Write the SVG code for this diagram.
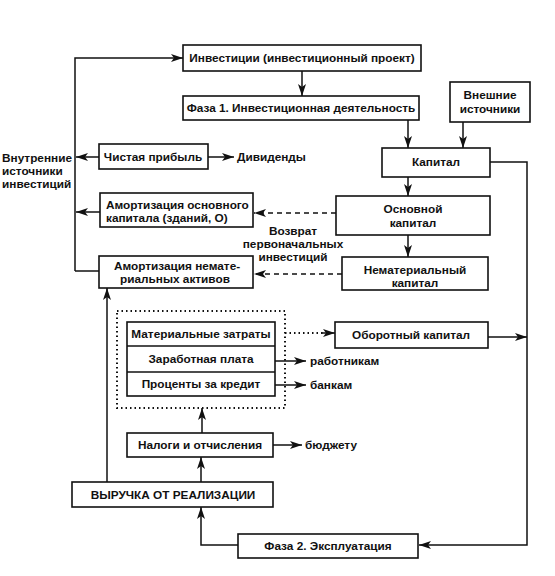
<svg xmlns="http://www.w3.org/2000/svg" width="555" height="576" viewBox="0 0 555 576">
<style>
.b{fill:#fff;stroke:#111;stroke-width:1.6}
.t{font-family:"Liberation Sans",Arial,sans-serif;font-size:11.8px;font-weight:bold;fill:#111}
.c{text-anchor:middle}
.l{fill:none;stroke:#111;stroke-width:1.5}
.d{stroke-dasharray:5 4}
.o{stroke-dasharray:1.5 3;stroke-width:2}
</style>
<defs>
<marker id="a" viewBox="0 0 12 8" refX="12" refY="4" markerWidth="12" markerHeight="8" markerUnits="userSpaceOnUse" orient="auto">
<path d="M0,0 L12,4 L0,8 L3,4 Z" fill="#111"/>
</marker>
</defs>
<rect width="555" height="576" fill="#fff"/>
<g id="connectors">
<path class="l" d="M75,271 V58 H183" marker-end="url(#a)"/>
<path class="l" d="M75,271 H99"/>
<path class="l" d="M302,71 V96" marker-end="url(#a)"/>
<path class="l" d="M408,120 V148" marker-end="url(#a)"/>
<path class="l" d="M463,122 V148" marker-end="url(#a)"/>
<path class="l" d="M408,177 V196" marker-end="url(#a)"/>
<path class="l" d="M408,235 V257" marker-end="url(#a)"/>
<path class="l" d="M99,157 H76" marker-end="url(#a)"/>
<path class="l" d="M208,157 H234" marker-end="url(#a)"/>
<path class="l" d="M100,212 H76" marker-end="url(#a)"/>
<path class="l d" d="M336,213 H254" marker-end="url(#a)"/>
<path class="l d" d="M342,274 H254" marker-end="url(#a)"/>
<path class="l" d="M490,162 H527 V545 H419" marker-end="url(#a)"/>
<path class="l" d="M488,337 H527" marker-end="url(#a)"/>
<path class="l o" d="M285,333 H324"/>
<path class="l" d="M322,333 H335" marker-end="url(#a)"/>
<path class="l" d="M275,361 H306" marker-end="url(#a)"/>
<path class="l" d="M275,385 H306" marker-end="url(#a)"/>
<path class="l" d="M273,445 H302" marker-end="url(#a)"/>
<path class="l" d="M202,433 V408" marker-end="url(#a)"/>
<path class="l" d="M201,482 V457" marker-end="url(#a)"/>
<path class="l" d="M107,482 V288" marker-end="url(#a)"/>
<path class="l" d="M238,545 H201 V507" marker-end="url(#a)"/>
</g>
<g id="invest"><rect class="b" x="183" y="45" width="238" height="26"/><text class="t c" x="302" y="62">Инвестиции (инвестиционный проект)</text></g>
<g id="phase1"><rect class="b" x="183" y="96" width="236" height="24"/><text class="t c" x="301" y="112">Фаза 1. Инвестиционная деятельность</text></g>
<g id="external"><rect class="b" x="450" y="82" width="80" height="40"/><text class="t c" x="490" y="99">Внешние</text><text class="t c" x="490" y="113">источники</text></g>
<g id="capital"><rect class="b" x="382" y="148" width="108" height="29"/><text class="t c" x="436" y="166">Капитал</text></g>
<g id="fixed"><rect class="b" x="336" y="196" width="154" height="39"/><text class="t c" x="413" y="213">Основной</text><text class="t c" x="413" y="227">капитал</text></g>
<g id="intangible"><rect class="b" x="342" y="257" width="146" height="33"/><text class="t c" x="415" y="274">Нематериальный</text><text class="t c" x="415" y="287">капитал</text></g>
<g id="inner-label"><text class="t" x="2" y="162">Внутренние</text><text class="t" x="2" y="175">источники</text><text class="t" x="2" y="188">инвестиций</text></g>
<g id="profit"><rect class="b" x="99" y="144" width="109" height="25"/><text class="t c" x="153" y="161">Чистая прибыль</text></g>
<g id="dividends"><text class="t" x="237" y="161">Дивиденды</text></g>
<g id="amort-fixed"><rect class="b" x="100" y="193" width="153" height="34"/><text class="t" x="106" y="209">Амортизация основного</text><text class="t" x="106" y="222">капитала (зданий, О)</text></g>
<g id="return-label"><text class="t c" x="293" y="235">Возврат</text><text class="t c" x="293" y="248">первоначальных</text><text class="t c" x="293" y="261">инвестиций</text></g>
<g id="amort-intangible"><rect class="b" x="99" y="256" width="154" height="32"/><text class="t c" x="177" y="270">Амортизация немате-</text><text class="t c" x="175" y="283">риальных активов</text></g>
<g id="costs"><rect class="l o" x="117" y="311" width="168" height="97"/>
<rect class="b" x="127" y="322" width="148" height="74"/>
<line class="l" x1="127" y1="346" x2="275" y2="346"/><line class="l" x1="127" y1="372" x2="275" y2="372"/>
<text class="t c" x="201" y="338">Материальные затраты</text>
<text class="t c" x="201" y="363">Заработная плата</text>
<text class="t c" x="201" y="388">Проценты за кредит</text></g>
<g id="working"><rect class="b" x="335" y="322" width="153" height="26"/><text class="t c" x="411" y="339">Оборотный капитал</text></g>
<g id="workers"><text class="t" x="310" y="365">работникам</text></g>
<g id="banks"><text class="t" x="310" y="389">банкам</text></g>
<g id="taxes"><rect class="b" x="127" y="433" width="146" height="24"/><text class="t c" x="200" y="449">Налоги и отчисления</text></g>
<g id="budget"><text class="t" x="305" y="449">бюджету</text></g>
<g id="revenue"><rect class="b" x="72" y="482" width="201" height="25"/><text class="t c" x="173" y="499">ВЫРУЧКА ОТ РЕАЛИЗАЦИИ</text></g>
<g id="phase2"><rect class="b" x="238" y="534" width="180" height="24"/><text class="t c" x="328" y="550">Фаза 2. Эксплуатация</text></g>
</svg>
